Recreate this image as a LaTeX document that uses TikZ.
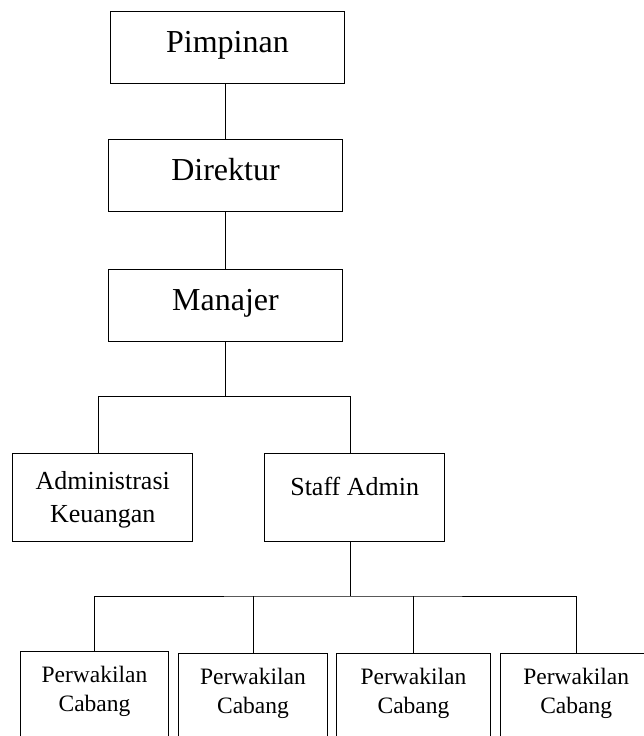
\documentclass[tikz,border=0pt]{standalone}
\usepackage{fontspec}
\setmainfont{Liberation Serif}
\usepackage{tikz}

\tikzset{
  box/.style={draw, line width=1pt, anchor=north, inner xsep=0pt, inner ysep=0pt, align=center},
  topbox/.style={box, minimum width=234pt, text height=41pt, text depth=31.5pt, font=\fontsize{32}{38}\selectfont},
  midbox/.style={box, minimum width=180pt, font=\fontsize{26}{32.4}\selectfont},
  cabang/.style={box, text height=60.5pt, text depth=45pt, font=\fontsize{23.5}{29}\selectfont},
  link/.style={line width=1pt}
}

\begin{document}
\begin{tikzpicture}[x=1pt, y=-1pt]
        \useasboundingbox (0,0) rectangle (644,736);
        \clip (0,0) rectangle (644,736);
        \node[topbox] (pim) at (227.5,10.7) {Pimpinan};
        \node[topbox] (dir) at (225.5,138.7) {Direktur};
        \node[topbox] (man) at (225.5,268.7) {Manajer};
        \node[midbox, text height=69pt, text depth=19pt] (adm) at (102.7,452.7) {Administrasi\\Keuangan};
        \node[midbox, text height=42.3pt, text depth=45.7pt] (staff) at (354.7,452.7) {Staff Admin};
        \node[cabang, minimum width=148pt] (pw1) at (94.5,650.7) {Perwakilan\\Cabang};
        \node[cabang, minimum width=149.5pt] (pw2) at (253,652.7) {Perwakilan\\Cabang};
        \node[cabang, minimum width=154.4pt] (pw3) at (413.5,652.7) {Perwakilan\\Cabang};
        \node[cabang, minimum width=151.7pt] (pw4) at (576.2,652.7) {Perwakilan\\Cabang};
        \coordinate (busA) at (225.5,396.7);
        \coordinate (busB) at (350.7,596);
        \draw[link] (dir.north) -- (dir.north |- pim.south);
        \draw[link] (man.north) -- (dir.south);
        \draw[link] (man.south) -- (busA);
        \draw[link] ([xshift=-4.2pt]adm.north) |- (busA) -| ([xshift=-4.3pt]staff.north);
        \draw[link] ([xshift=-4pt]staff.south) -- (busB);
        \draw[link] (pw1.north) |- (busB) -| (pw4.north);
        \draw[link] (pw2.north) -- (pw2.north |- busB);
        \draw[link] (pw3.north) -- (pw3.north |- busB);
    \end{tikzpicture}
\end{document}
